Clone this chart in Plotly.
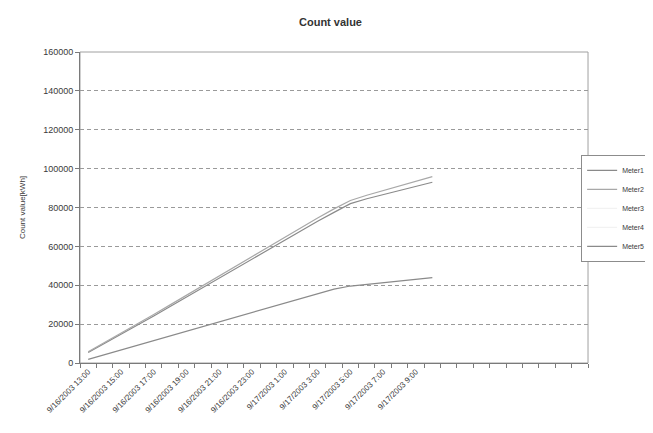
"""Count value chart (Excel-style line chart) with Plotly."""

import plotly.graph_objects as go

# 31 hourly categories on the axis, only the first 22 carry data
categories = [
    "9/16/2003 13:00", "9/16/2003 14:00", "9/16/2003 15:00", "9/16/2003 16:00",
    "9/16/2003 17:00", "9/16/2003 18:00", "9/16/2003 19:00", "9/16/2003 20:00",
    "9/16/2003 21:00", "9/16/2003 22:00", "9/16/2003 23:00", "9/17/2003 0:00",
    "9/17/2003 1:00", "9/17/2003 2:00", "9/17/2003 3:00", "9/17/2003 4:00",
    "9/17/2003 5:00", "9/17/2003 6:00", "9/17/2003 7:00", "9/17/2003 8:00",
    "9/17/2003 9:00", "9/17/2003 10:00",
] + [""] * 9

meter1 = [5400, 10000, 14600, 19300, 24200, 29100, 34000, 38900, 43800, 48700, 53600,
          58500, 63400, 68200, 72900, 77500, 82000, 84500, 86700, 88900, 91000, 93000]
meter2 = [5800, 10500, 15200, 19900, 24900, 29900, 34900, 39900, 44900, 49900, 54900,
          59900, 64900, 69800, 74600, 79300, 83600, 86300, 88700, 91100, 93500, 95900]
meter3 = [None] * 22
meter4 = [None] * 22
meter5 = [1900, 4300, 6700, 9100, 11500, 13900, 16300, 18700, 21000, 23500, 26000,
          28500, 31000, 33400, 35800, 38000, 39600, 40500, 41400, 42300, 43100, 43900]

series = [
    ("Meter1", meter1, "#8a8a8a"),
    ("Meter2", meter2, "#a8a8a8"),
    ("Meter3", meter3, "#f2f2f2"),
    ("Meter4", meter4, "#f2f2f2"),
    ("Meter5", meter5, "#8a8a8a"),
]

y_ticks = list(range(0, 160001, 20000))

FONT = "Liberation Sans, Arial, sans-serif"
TEXT = "#3a3a3a"

x_idx = list(range(len(meter1)))
label_idx = list(range(0, len(meter1), 2))

fig = go.Figure()
for name, values, color in series:
    fig.add_trace(
        go.Scatter(
            x=x_idx,
            y=values,
            mode="lines",
            name=name,
            line=dict(color=color, width=1.2),
            hoverinfo="skip",
        )
    )

# the page body adds an 8px margin, so the figure is 8px smaller on each side.
# No right margin: the x domain leaves room for the legend so it never pushes margins.
fig.update_layout(
    width=645,
    height=425,
    margin=dict(l=72, r=0, t=44, b=70),
    paper_bgcolor="white",
    plot_bgcolor="white",
    font=dict(family=FONT, size=8, color=TEXT),
    title=dict(
        text="<b>Count value</b>",
        x=0.5,
        xanchor="center",
        y=0.967,
        yanchor="middle",
        font=dict(size=11, color="#333333"),
    ),
    showlegend=True,
    legend=dict(
        x=0.995,
        xanchor="right",
        y=0.669,
        yanchor="top",
        bgcolor="white",
        bordercolor="#8c8c8c",
        borderwidth=1,
        font=dict(size=7, color=TEXT),
        itemwidth=30,
    ),
    xaxis=dict(
        domain=[0, 0.8866],
        range=[-0.5, len(categories) - 0.5],
        tickmode="array",
        tickvals=label_idx,
        ticktext=[categories[i] for i in label_idx],
        tickangle=-45,
        ticks="",
        showgrid=False,
        zeroline=False,
        showline=True,
        linecolor="#7a7a7a",
        linewidth=1,
        automargin=False,
        tickfont=dict(size=8, color=TEXT),
        minor=dict(
            tick0=-0.5,
            dtick=1,
            ticks="outside",
            ticklen=4,
            tickcolor="#7a7a7a",
            showgrid=False,
        ),
    ),
    yaxis=dict(
        range=[0, 160000],
        tickmode="array",
        tickvals=y_ticks,
        ticktext=[str(v) for v in y_ticks],
        ticks="outside",
        ticklen=4,
        tickcolor="#7a7a7a",
        showgrid=True,
        gridcolor="#9a9a9a",
        griddash="4px,3px",
        gridwidth=1,
        zeroline=False,
        showline=True,
        linecolor="#7a7a7a",
        linewidth=1,
        automargin=False,
        tickfont=dict(size=9, color=TEXT),
        title=dict(text="Count value[kWh]", font=dict(size=8, color=TEXT), standoff=16),
    ),
)

# plot area frame (right and top edges, as in the Excel chart)
fig.add_shape(
    type="rect", xref="x domain", yref="y domain", x0=0, y0=0, x1=1, y1=1,
    line=dict(color="#a0a0a0", width=1), layer="below",
)

fig.write_html("out.html")
